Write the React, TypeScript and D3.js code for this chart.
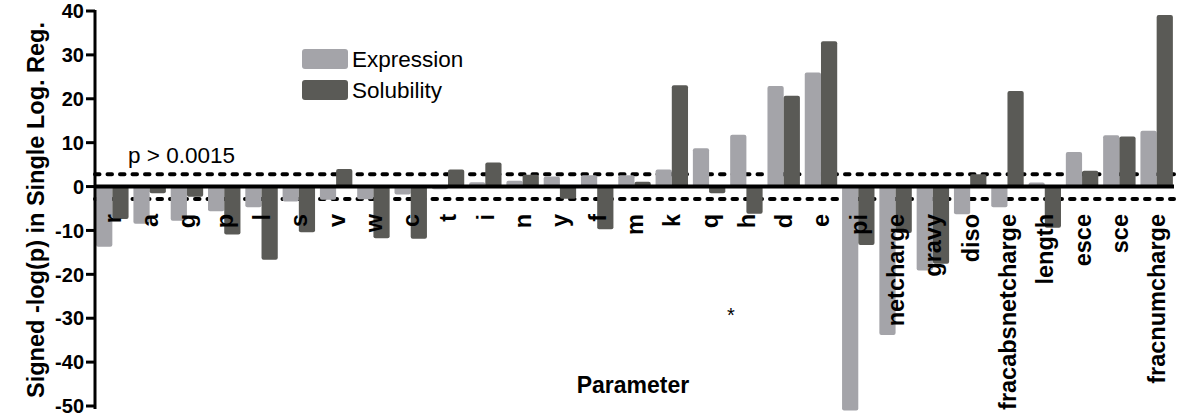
import React from 'react';
import * as d3 from 'd3';

// parameters along the x axis
const categories = ['r', 'a', 'g', 'p', 'l', 's', 'v', 'w', 'c', 't', 'i', 'n', 'y', 'f', 'm', 'k', 'q', 'h', 'd', 'e',
  'pi', 'netcharge', 'gravy', 'diso', 'fracabsnetcharge', 'length', 'esce', 'sce', 'fracnumcharge'];

// signed -log(p) values
const expression = [-13.7, -8.5, -7.8, -5.6, -4.7, -3.4, -3.0, -2.9, -1.8, -0.6, 1.0, 1.3, 2.3, 2.6, 2.6, 3.9, 8.7, 11.8, 22.9, 26.0,
  -51, -33.8, -19.1, -6.3, -4.7, 0.9, 7.9, 11.7, 12.7];
const solubility = [-7.4, -1.5, -2.3, -10.9, -16.7, -10.4, 4.0, -11.8, -11.9, 3.9, 5.5, 2.7, -2.8, -9.7, 1.1, 23.1, -1.5, -6.2, 20.7, 33.1,
  -13.3, -10.6, -17.6, 2.8, 21.8, -9.4, 3.6, 11.4, 39.1];

const yTicks = [40, 30, 20, 10, 0, -10, -20, -30, -40, -50];
const threshold = 2.82; // -log10(0.0015)

const seriesNames = ['Expression', 'Solubility'];
const colors = ['#a4a4a9', '#5a5a56'];

export default function App() {
  const width = 1200;
  const height = 418;
  const left = 95;
  const right = 1174;

  const y = d3.scaleLinear().domain([-50, 40]).range([406, 11]);
  const x = d3.scaleBand().domain(categories).range([left, right]).paddingInner(0.13).paddingOuter(0.03);
  const x1 = d3.scaleBand().domain(seriesNames).range([0, x.bandwidth()]);

  const y0 = y(0);
  const font = 'Liberation Sans, Arial, Helvetica, sans-serif';

  const bar = (v: number) => ({ top: Math.min(y(v), y0), h: Math.abs(y(v) - y0) });

  return (
    <svg width={width} height={height} style={{ position: 'absolute', left: 0, top: 0, background: '#fff' }}
      fontFamily={font}>
      {/* threshold lines */}
      {[threshold, -threshold].map((t, i) => (
        <line key={i} x1={left} x2={right} y1={y(t)} y2={y(t)} stroke="#000" strokeWidth={4}
          strokeDasharray="4.5 8" strokeLinecap="round" />
      ))}

      {/* bars */}
      {categories.map((c, i) => (
        <g key={c} transform={`translate(${x(c)},0)`}>
          {[expression[i], solubility[i]].map((v, j) => {
            const b = bar(v);
            return (
              <rect key={j} x={x1(seriesNames[j])} y={b.top} width={x1.bandwidth()} height={b.h}
                rx={2} fill={colors[j]} />
            );
          })}
        </g>
      ))}

      {/* zero line */}
      <line x1={left} x2={right} y1={y0} y2={y0} stroke="#000" strokeWidth={4} />

      {/* y axis */}
      <line x1={left} x2={left} y1={y(40) - 1} y2={y(-50) + 3} stroke="#000" strokeWidth={3} />
      {yTicks.map((t) => (
        <g key={t}>
          <line x1={left - 9} x2={left} y1={y(t)} y2={y(t)} stroke="#000" strokeWidth={3} />
          <text x={left - 11} y={y(t)} dy="0.36em" textAnchor="end" fontSize={20} fontWeight="bold">{t}</text>
        </g>
      ))}
      <text transform={`translate(36,210) rotate(-90)`} dy="0.35em" textAnchor="middle" fontSize={23.5}
        fontWeight="bold">Signed -log(p) in Single Log. Reg.</text>

      {/* category labels */}
      {categories.map((c) => (
        <text key={c} transform={`translate(${(x(c) as number) + x.bandwidth() / 2},214) rotate(-90)`} dy="0.36em"
          textAnchor="end" fontSize={23.5} fontWeight="bold">{c}</text>
      ))}

      <text x={633} y={393} textAnchor="middle" fontSize={23} fontWeight="bold">Parameter</text>
      <text x={731} y={322} textAnchor="middle" fontSize={20}>*</text>
      <text x={128} y={163} fontSize={22.5}>p &gt; 0.0015</text>

      {/* legend */}
      {seriesNames.map((s, i) => (
        <g key={s} transform={`translate(302,${49 + i * 31})`}>
          <rect width={46} height={20} rx={3} fill={colors[i]} />
          <text x={50} y={10} dy="0.36em" fontSize={22.5}>{s}</text>
        </g>
      ))}
    </svg>
  );
}
